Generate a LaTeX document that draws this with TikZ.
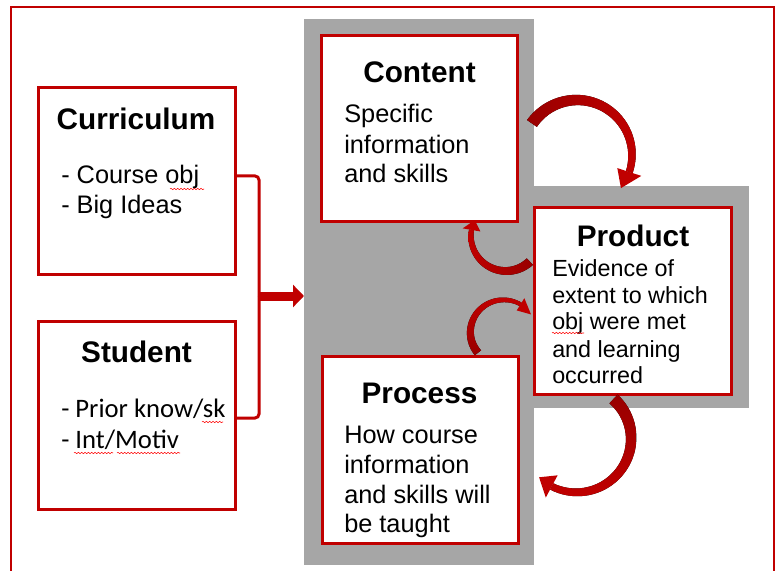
\documentclass[tikz,border=0pt]{standalone}
\usepackage{fontspec}
\setmainfont{Liberation Sans}
\newfontfamily\calibri{Carlito}
\usetikzlibrary{arrows.meta,decorations.pathmorphing}
\definecolor{boxred}{HTML}{C00000}
\definecolor{arrowdark}{HTML}{980000}
\definecolor{backgray}{HTML}{A6A6A6}

% tapered curved arrow: centre, body fill, tail radius, neck radius,
% tail angle, neck angle, tail width, neck width, tip angle
\newcommand{\bendarrow}[9]{%
  \begin{scope}[#1]
  \fill[#2] plot[domain=0:1,samples=40]
    ({(#3+(#4-(#3))*\x+(#7+(#8-(#7))*\x)/2)*cos(#5+(#6-(#5))*\x)},
     {(#3+(#4-(#3))*\x+(#7+(#8-(#7))*\x)/2)*sin(#5+(#6-(#5))*\x)})
    -- plot[domain=0:1,samples=40]
    ({(#4+(#3-(#4))*\x-(#8+(#7-(#8))*\x)/2)*cos(#6+(#5-(#6))*\x)},
     {(#4+(#3-(#4))*\x-(#8+(#7-(#8))*\x)/2)*sin(#6+(#5-(#6))*\x)}) -- cycle;
  \fill[boxred] ({(#4+1.8*#8)*cos(#6)},{(#4+1.8*#8)*sin(#6)})
    -- ({#4*cos(#9)},{#4*sin(#9)})
    -- ({(#4-1.8*#8)*cos(#6)},{(#4-1.8*#8)*sin(#6)}) -- cycle;
  \end{scope}}

\begin{document}
\begin{tikzpicture}[x=0.75pt,y=-0.75pt,
  panel/.style={draw=boxred,line width=2.25pt,fill=white,inner sep=0pt},
  title/.style={font=\fontsize{22.3}{26}\selectfont\bfseries,anchor=base,inner sep=0pt},
  body/.style={font=\fontsize{19}{22.5}\selectfont,anchor=base west,inner sep=0pt},
  small/.style={font=\fontsize{17.5}{20}\selectfont,anchor=base west,inner sep=0pt},
  stubody/.style={font=\calibri\fontsize{20}{23}\selectfont,anchor=base west,inner sep=0pt},
  bracket/.style={draw=boxred,line width=2.25pt,rounded corners=3pt},
  squiggle/.style={draw=red,line width=0.4pt,decorate,decoration={snake,amplitude=0.5pt,segment length=2.5pt}}]
\useasboundingbox (0,0) rectangle (776,571);
\clip (0,0) rectangle (776,571);

% frame and gray backing
\draw[boxred,line width=1.1pt] (11,7) rectangle (774,600);
\fill[backgray] (304,19) rectangle (534,565);
\fill[backgray] (534,186) rectangle (749,408);

% left boxes
\node[panel,minimum width=147.75pt,minimum height=140.25pt] (cur) at (136.5,180.5) {};
\node[panel,minimum width=147.75pt,minimum height=141pt] (stu) at (136.5,415) {};
\node[title] (curtitle) at (136,129) {Curriculum};
\node[body] (cur1) at (61,183) {- Course obj};
\node[body] (cur2) at (61,213) {- Big Ideas};
\node[title] (stutitle) at (136.5,362) {Student};
\node[stubody] (stu1) at (61,417) {- Prior know/sk};
\node[stubody] (stu2) at (61,448) {- Int/Motiv};
\draw[squiggle] (170,189) -- (204,189);
\draw[squiggle] (202,422) -- (223,422);
\draw[squiggle] (74,453) -- (113,453);
\draw[squiggle] (117,453) -- (180,453);

% bracket into the cycle
\coordinate (join) at (259,296);
\coordinate (entry) at (304,296);
\draw[bracket] ([yshift=3.4pt]cur.east) -| (join);
\draw[bracket] ([yshift=-2.25pt]stu.east) -| (join);
\draw[boxred,line width=6.75pt,-{Triangle[length=8.25pt,width=16.5pt]}] (join) -- (entry);

% cycle boxes
\node[panel,minimum width=147pt,minimum height=139.5pt] (con) at (419,128) {};
\node[panel,minimum width=147.75pt,minimum height=140.25pt] (prod) at (632.5,300.5) {};
\node[panel,minimum width=147pt,minimum height=140.25pt] (proc) at (420,449.5) {};

\node[title] (contitle) at (419.5,82) {Content};
\node[body] (con1) at (344,122) {Specific};
\node[body] (con2) at (344,153) {information};
\node[body] (con3) at (344,182) {and skills};

\node[title] (prodtitle) at (633,246) {Product};
\node[small] (prod1) at (552,276) {Evidence of};
\node[small] (prod2) at (552,303) {extent to which};
\node[small] (prod3) at (552,329) {obj were met};
\node[small] (prod4) at (552,357) {and learning};
\node[small] (prod5) at (552,383) {occurred};
\draw[squiggle] (552,333) -- (584,333);

\node[title] (proctitle) at (419.5,403) {Process};
\node[body] (proc1) at (344,443) {How course};
\node[body] (proc2) at (344,473) {information};
\node[body] (proc3) at (344,503) {and skills will};
\node[body] (proc4) at (344,532) {be taught};

% curved arrows
\bendarrow{shift={(577,155)}}{left color=arrowdark,right color=boxred}{55}{55}{-145}{18}{12}{7}{37}
\bendarrow{shift={(506,236)}}{left color=boxred,right color=arrowdark}{35}{35}{47}{190}{9}{5}{207}
\bendarrow{shift={(502,334)}}{bottom color=arrowdark,top color=boxred}{30.5}{35}{142}{302}{8}{4}{326}
\bendarrow{shift={(578,437)}}{top color=arrowdark,bottom color=boxred}{52}{56}{-47}{118}{12}{7}{134}
\end{tikzpicture}
\end{document}
